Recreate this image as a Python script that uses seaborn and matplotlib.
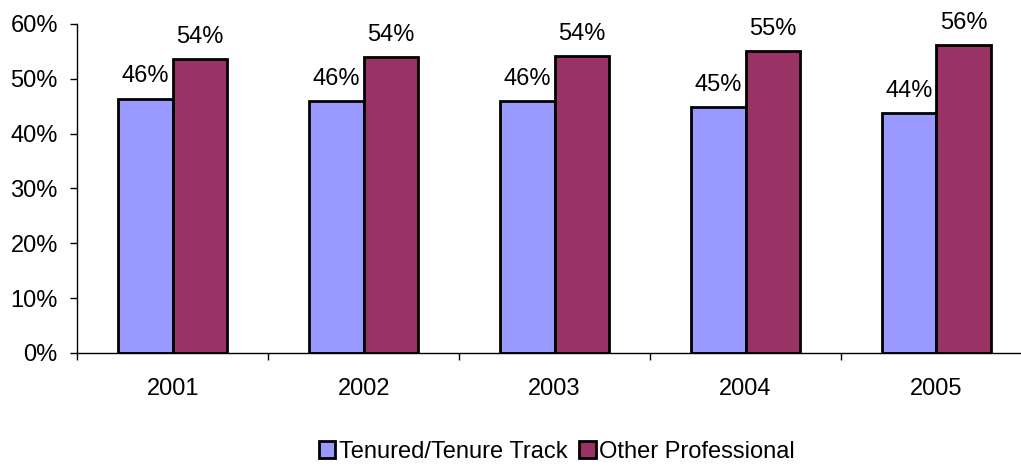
import matplotlib
matplotlib.use('Agg')
import matplotlib.pyplot as plt
import seaborn as sns
import pandas as pd
from matplotlib.ticker import FixedLocator

years = ['2001', '2002', '2003', '2004', '2005']
tenured = [46.4, 46.0, 45.9, 44.9, 43.8]
other_prof = [53.6, 54.0, 54.1, 55.1, 56.2]
series_names = ['Tenured/Tenure Track', 'Other Professional']
colors = ['#9999FF', '#993366']

sns.set_style('white')
plt.rcParams['font.family'] = ['Liberation Sans', 'DejaVu Sans']
plt.rcParams['text.color'] = 'black'
plt.rcParams['xtick.color'] = 'black'
plt.rcParams['ytick.color'] = 'black'
FS = 17

rows = []
for y, a, b in zip(years, tenured, other_prof):
    rows.append({'year': y, 'group': series_names[0], 'value': a})
    rows.append({'year': y, 'group': series_names[1], 'value': b})
df = pd.DataFrame(rows)

fig = plt.figure(figsize=(10.21, 4.66), dpi=100)
ax = fig.add_axes([0.0757, 0.2425, 0.935, 0.706])

sns.barplot(data=df, x='year', y='value', hue='group', palette=colors,
            width=0.57, gap=0, edgecolor='black', linewidth=2,
            saturation=1, ax=ax, legend=False)

# data labels above each bar
for cont in ax.containers:
    ax.bar_label(cont, labels=[f'{round(v)}%' for v in cont.datavalues],
                 padding=8, fontsize=FS, color='black')

ax.set_ylim(0, 60)
ax.set_xlim(-0.5, 4.5)
ax.set_yticks(range(0, 61, 10))
ax.set_yticklabels([f'{v}%' for v in range(0, 61, 10)])
ax.xaxis.set_minor_locator(FixedLocator([i - 0.5 for i in range(6)]))
ax.tick_params(axis='x', which='major', length=0, pad=18, labelsize=FS, labelcolor='black')
ax.tick_params(axis='x', which='minor', length=5, width=1, color='black', bottom=True)
ax.tick_params(axis='y', length=5, width=1, color='black', left=True, pad=9,
               labelsize=FS, labelcolor='black')
ax.set_xlabel('')
ax.set_ylabel('')
for s in ['top', 'right']:
    ax.spines[s].set_visible(False)
for s in ['left', 'bottom']:
    ax.spines[s].set_color('black')
    ax.spines[s].set_linewidth(1)

handles = [plt.Rectangle((0, 0), 1, 1, facecolor=c, edgecolor='black', linewidth=2)
           for c in colors]
fig.legend(handles, series_names, loc='center', bbox_to_anchor=(0.5455, 0.03),
           ncol=2, frameon=False, fontsize=FS, handlelength=0.7, handleheight=0.7,
           handletextpad=0.15, columnspacing=0.5, labelcolor='black')

fig.savefig('out.png', dpi=100)
